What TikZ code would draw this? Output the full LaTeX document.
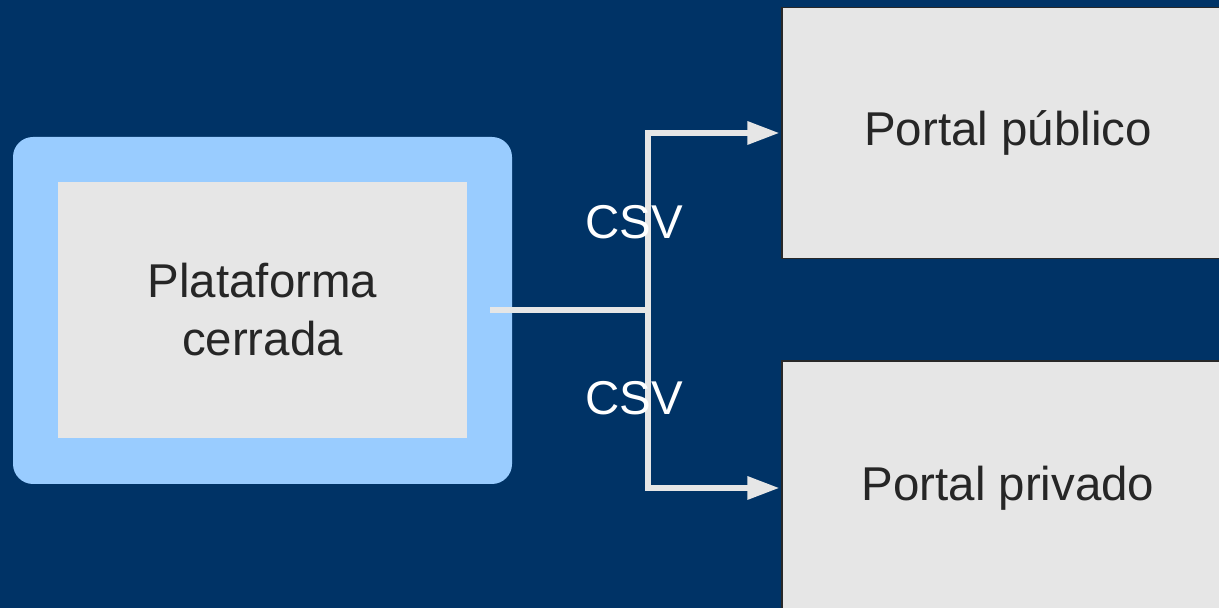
\documentclass[tikz,border=0pt]{standalone}
\usepackage{fontspec}
\setmainfont{Liberation Sans}
\usetikzlibrary{arrows.meta}

\definecolor{bgblue}{RGB}{0,51,102}
\definecolor{frameblue}{RGB}{153,204,255}
\definecolor{boxgray}{RGB}{230,230,230}
\definecolor{boxline}{RGB}{40,40,40}

\tikzset{
  label text/.style={font=\fontsize{27}{33}\selectfont},
  frame/.style={fill=frameblue, rounded corners=0.4cm, minimum width=9.98cm, minimum height=6.94cm, inner sep=0pt},
  inner box/.style={fill=boxgray, minimum width=8.18cm, minimum height=5.12cm, align=center, text=black!85, label text},
  portal/.style={fill=boxgray, draw=boxline, line width=0.6pt, minimum width=9.04cm, inner sep=0pt, text=black!85, label text},
  conn/.style={draw=boxgray, line width=0.12cm},
  csv/.style={text=white, label text}
}

\begin{document}
\begin{tikzpicture}

% Background and page size
\useasboundingbox (0,0) rectangle (24.38,12.16);
\clip (0,0) rectangle (24.38,12.16);
\fill[bgblue] (0,0) rectangle (24.38,12.16);

% Closed platform: light blue frame with grey box inside
\node[frame] (platframe) at (5.25,5.95) {};
\node[inner box] (plat) at (5.25,5.96) {Plataforma\\cerrada};

% Public portal (top right, cut by the page edge)
\node[portal, minimum height=5.02cm] (pub) at (20.16,9.50) {Portal público};

% Private portal (bottom right, cut by the page edge)
\node[portal, minimum height=5.08cm] (priv) at (20.16,2.40) {Portal privado};

% Start of the connector and the branching point
\coordinate (src) at (9.80,5.96);
\coordinate (junc) at (12.96,5.96);

% Connector from platform to the branching point
\draw[conn] (src) -- (junc);

% Branches to both portals
\draw[conn, -{Triangle[length=0.64cm,width=0.44cm]}, shorten >=0.04cm] (junc) |- (pub.west);
\draw[conn, -{Triangle[length=0.64cm,width=0.44cm]}, shorten >=0.04cm] (junc) |- (priv.west);

% Labels on the branches
\node[csv] (csvpub) at (12.68,7.72) {CSV};
\node[csv] (csvpriv) at (12.68,4.20) {CSV};

\end{tikzpicture}
\end{document}
